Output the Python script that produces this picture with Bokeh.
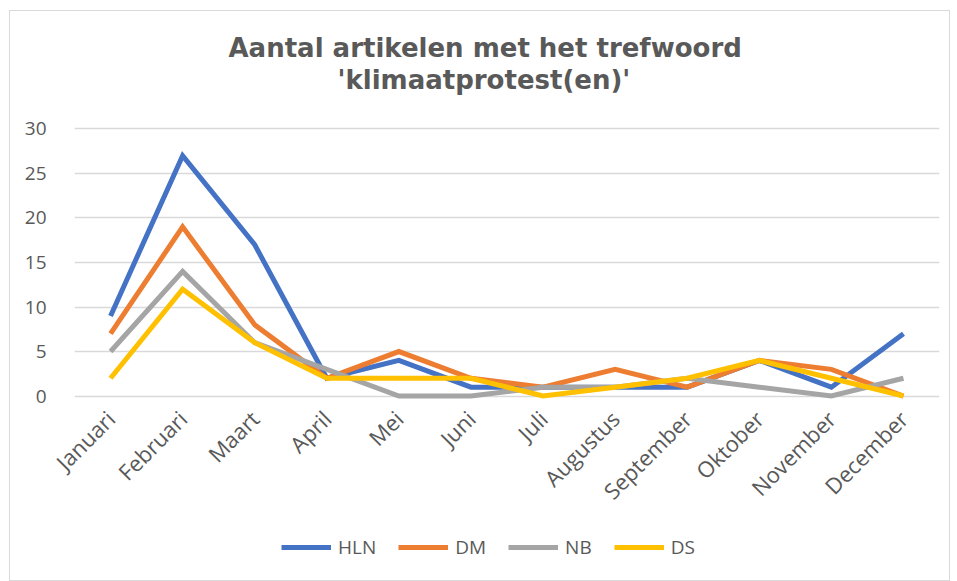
from math import pi
from bokeh.plotting import figure
from bokeh.models import Range1d, Legend, LegendItem, FixedTicker, Title
from bokeh.layouts import column
from bokeh.embed import file_html
from bokeh.resources import INLINE

months = ["Januari", "Februari", "Maart", "April", "Mei", "Juni", "Juli",
          "Augustus", "September", "Oktober", "November", "December"]
hln = [9, 27, 17, 2, 4, 1, 1, 1, 1, 4, 1, 7]
dm = [7, 19, 8, 2, 5, 2, 1, 3, 1, 4, 3, 0]
nb = [5, 14, 6, 3, 0, 0, 1, 1, 2, 1, 0, 2]
ds = [2, 12, 6, 2, 2, 2, 0, 1, 2, 4, 2, 0]
series_names = ["HLN", "DM", "NB", "DS"]
series_values = [hln, dm, nb, ds]
colors = ["#4472C4", "#ED7D31", "#A5A5A5", "#FFC000"]
y_ticks = [0, 5, 10, 15, 20, 25, 30]
title_line1 = "Aantal artikelen met het trefwoord"
title_line2 = "'klimaatprotest(en)'"

xs = list(range(len(months)))

p = figure(frame_width=865, frame_height=276, output_backend="svg", toolbar_location=None,
           x_range=Range1d(-0.5, len(months) - 0.5), y_range=Range1d(-0.5, 30.5),
           min_border_left=64, min_border_right=10, min_border_top=113, min_border_bottom=116)
p.outline_line_color = None

# spacer between the title and the plotting area
p.add_layout(Title(text=" ", text_font="DejaVu Sans", text_font_size="24px", standoff=0), "above")
p.add_layout(Title(text=title_line2, align="left", offset=263, text_font="DejaVu Sans",
                   text_font_size="26px", text_font_style="bold", text_color="#595959",
                   standoff=0), "above")
p.add_layout(Title(text=title_line1, align="left", offset=154, text_font="DejaVu Sans",
                   text_font_size="26px", text_font_style="bold", text_color="#595959",
                   standoff=0), "above")

renderers = []
for name, vals, c in zip(series_names, series_values, colors):
    r = p.line(xs, vals, line_color=c, line_width=5, line_join="miter")
    renderers.append((name, r))

p.xaxis.ticker = FixedTicker(ticks=xs)
p.xaxis.major_label_overrides = {i: m for i, m in enumerate(months)}
p.xaxis.major_label_orientation = pi / 4
p.yaxis.ticker = FixedTicker(ticks=y_ticks)
for ax in (p.xaxis[0], p.yaxis[0]):
    ax.axis_line_color = None
    ax.major_tick_line_color = None
    ax.minor_tick_line_color = None
    ax.major_label_text_color = "#595959"
    ax.major_label_text_font = "Open Sans"
    ax.major_label_text_font_size = "19px"
p.xaxis.major_label_text_font_size = "22px"
p.xaxis.major_label_standoff = 8
p.yaxis.major_label_standoff = 22

p.xgrid.grid_line_color = None
p.ygrid.ticker = FixedTicker(ticks=y_ticks)
p.ygrid.grid_line_color = "#D9D9D9"
p.ygrid.grid_line_width = 1.5

# legend strip below the chart (same series styles; single-point lines draw nothing)
leg = figure(width=939, height=62, output_backend="svg", toolbar_location=None,
             x_range=Range1d(-0.5, len(months) - 0.5), y_range=Range1d(-0.5, 30.5),
             x_axis_type=None, y_axis_type=None,
             min_border_left=0, min_border_right=0, min_border_top=0, min_border_bottom=0)
leg.outline_line_color = None
leg.xgrid.visible = False
leg.ygrid.visible = False
items = []
for name, vals, c in zip(series_names, series_values, colors):
    r = leg.line(x=xs[:1], y=vals[:1], line_color=c, line_width=5)
    items.append(LegendItem(label=name, renderers=[r]))
legend = Legend(items=items, orientation="horizontal", location=(207, 20),
                glyph_width=50, glyph_height=20, label_standoff=7, spacing=22,
                label_text_font="Open Sans", label_text_font_size="19px",
                label_text_color="#595959", border_line_color=None,
                background_fill_alpha=0, margin=0, padding=4)
leg.add_layout(legend, "center")

layout = column(p, leg, spacing=0)
layout.styles = {"border": "1px solid #D9D9D9", "margin-left": "9px", "margin-top": "10px"}

open("out.html", "w").write(file_html(layout, INLINE))
